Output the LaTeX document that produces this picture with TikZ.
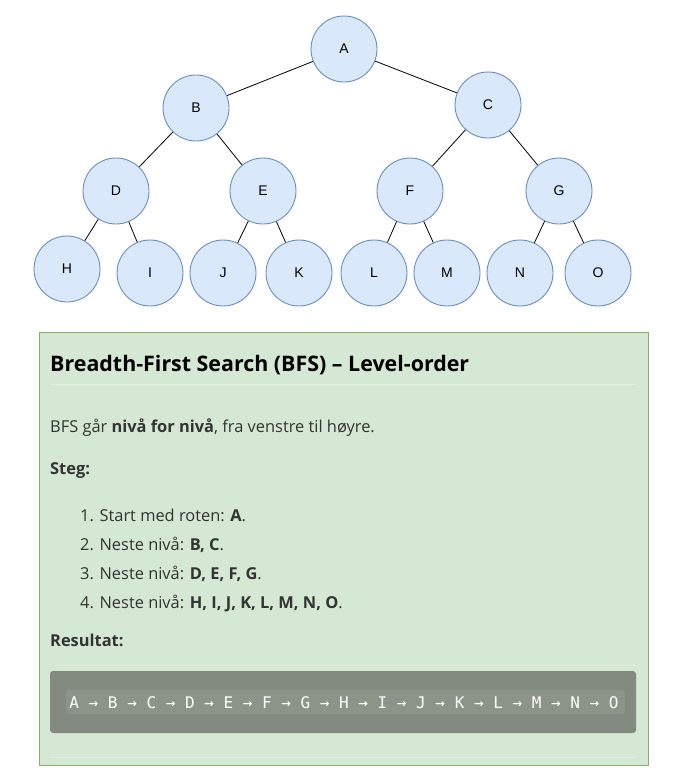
\documentclass[tikz,border=0pt]{standalone}
\usepackage{fontspec}
\setmainfont{Open Sans}
\newfontfamily\arialfont{Liberation Sans}
\newfontfamily\codefont{DejaVu Sans Mono}
\definecolor{nodefill}{HTML}{DAE8FC}
\definecolor{nodeborder}{HTML}{6C8EBF}
\definecolor{panelfill}{HTML}{D5E8D4}
\definecolor{panelborder}{HTML}{82B366}
\definecolor{bodytext}{HTML}{333333}
\definecolor{codebg}{HTML}{838B80}
\definecolor{codeinner}{HTML}{8C948A}
\definecolor{sepline}{HTML}{E3EFE2}
\begin{document}
\begin{tikzpicture}[x=1pt,y=-1pt]
\useasboundingbox (0,0) rectangle (692,781);
\tikzset{
  tn/.style={circle,draw=nodeborder,fill=nodefill,line width=0.9pt,minimum size=66pt,inner sep=0pt,font=\arialfont\fontsize{14}{16}\selectfont},
  edge/.style={draw=black,line width=0.8pt},
  txt/.style={anchor=base west,inner sep=0pt,text=bodytext,font=\fontsize{16.4}{19}\selectfont},
}
% tree
\node[tn] (A) at (344,49) {A};
\node[tn] (B) at (196,108) {B};
\node[tn] (C) at (488,105) {C};
\node[tn] (D) at (116,191) {D};
\node[tn] (E) at (263,191) {E};
\node[tn] (F) at (410,191) {F};
\node[tn] (G) at (559,191) {G};
\node[tn] (H) at (67,269) {H};
\node[tn] (I) at (150,273) {I};
\node[tn] (J) at (223,273) {J};
\node[tn] (K) at (299,273) {K};
\node[tn] (L) at (374,273) {L};
\node[tn] (M) at (447,273) {M};
\node[tn] (N) at (520,273) {N};
\node[tn] (O) at (598,273) {O};
\draw[edge] (A) -- (B);
\draw[edge] (A) -- (C);
\draw[edge] (B) -- (D);
\draw[edge] (B) -- (E);
\draw[edge] (C) -- (F);
\draw[edge] (C) -- (G);
\draw[edge] (D) -- (H);
\draw[edge] (D) -- (I);
\draw[edge] (E) -- (J);
\draw[edge] (E) -- (K);
\draw[edge] (F) -- (L);
\draw[edge] (F) -- (M);
\draw[edge] (G) -- (N);
\draw[edge] (G) -- (O);
% panel
\node[draw=panelborder,fill=panelfill,line width=0.9pt,anchor=north west,minimum width=609pt,minimum height=433pt,inner sep=0pt] (panel) at (39,332) {};
\node[txt,text=black,font=\bfseries\fontsize{21.4}{25}\selectfont] (title) at (50,371) {Breadth-First Search (BFS) – Level-order};
\draw[sepline,line width=0.8pt] (50,384) coordinate (s1) -- (637,384) coordinate (s2);
\node[txt] (intro) at (50,432) {BFS går \textbf{nivå for nivå}, fra venstre til høyre.};
\node[txt,font=\bfseries\fontsize{16.4}{19}\selectfont] (steg) at (50,474) {Steg:};
\node[txt] (i1) at (80,521) {1. Start med roten: \textbf{A}.};
\node[txt] (i2) at (80,550) {2. Neste nivå: \textbf{B, C}.};
\node[txt] (i3) at (80,579) {3. Neste nivå: \textbf{D, E, F, G}.};
\node[txt] (i4) at (80,608) {4. Neste nivå: \textbf{H, I, J, K, L, M, N, O}.};
\node[txt,font=\bfseries\fontsize{16.4}{19}\selectfont] (res) at (50,646) {Resultat:};
\fill[codebg,rounded corners=3pt] (50,671) rectangle (636,733);
\fill[codeinner,rounded corners=3pt] (66,690) rectangle (625,714);
\node[anchor=base,inner sep=0pt,text=white,font=\codefont\fontsize{16}{18}\selectfont] (code) at (344,708) {A → B → C → D → E → F → G → H → I → J → K → L → M → N → O};
\draw[sepline,line width=0.8pt] (50,757) -- (636,757);
\end{tikzpicture}
\end{document}
